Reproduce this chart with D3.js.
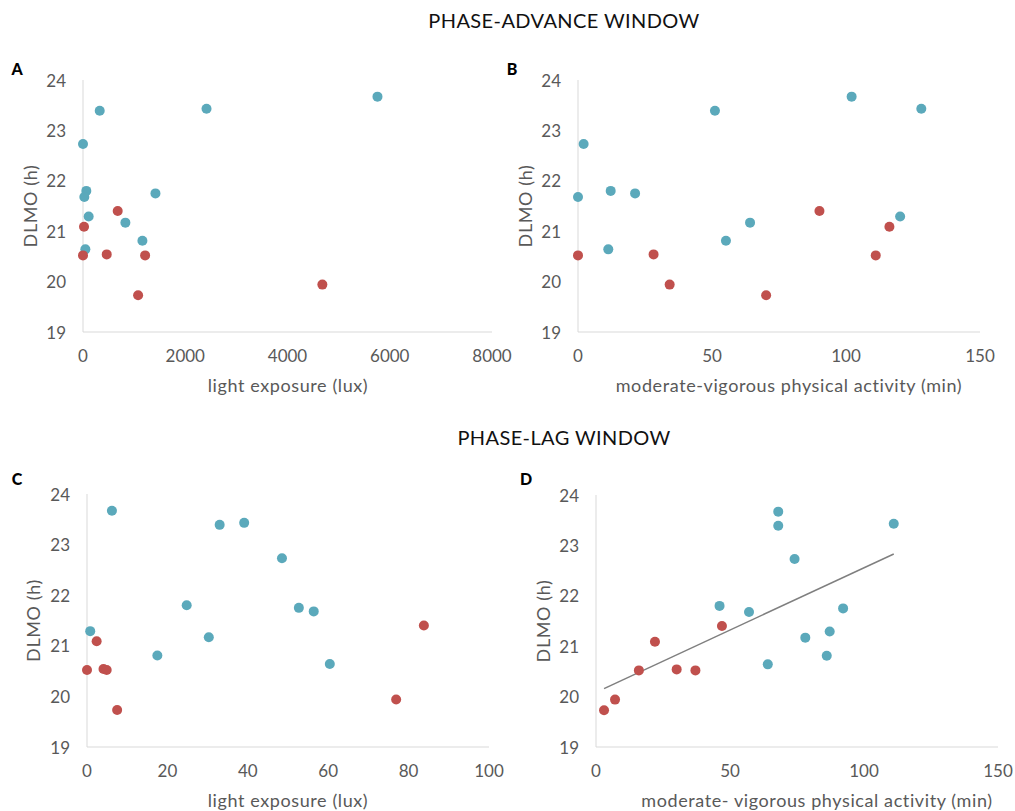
<!DOCTYPE html>
<html>
<head>
<meta charset="utf-8">
<script src="https://cdn.jsdelivr.net/npm/d3@7"></script>
<style>
  body { margin: 0; background: #fff; }
  svg text { font-family: Lato, "Noto Sans", sans-serif; }
</style>
</head>
<body>
<script>
// DLMO (h) for the 11 "blue" and 7 "red" participants (same people in every panel)
var dlmoBlue = [23.39, 23.43, 23.67, 22.73, 21.80, 21.68, 21.75, 21.29, 21.17, 20.81, 20.64];
var dlmoRed  = [21.40, 21.09, 20.52, 20.54, 20.52, 19.94, 19.73];

// A: light exposure, phase-advance window (lux)
var lightAdvBlue = [327, 2416, 5760, 0, 65, 26, 1417, 111, 829, 1162, 46];
var lightAdvRed  = [679, 20, 0, 464, 1215, 4682, 1078];
// B: MVPA, phase-advance window (min)
var mvpaAdvBlue = [51.1, 128.1, 102.1, 2.1, 12.2, 0, 21.3, 120.2, 64.2, 55.2, 11.3];
var mvpaAdvRed  = [90.1, 116.2, 0, 28.2, 111.1, 34.2, 70.2];
// C: light exposure, phase-lag window (lux)
var lightLagBlue = [33.0, 39.1, 6.2, 48.5, 24.8, 56.4, 52.7, 0.8, 30.3, 17.5, 60.4];
var lightLagRed  = [83.8, 2.4, 0, 4.1, 4.9, 76.9, 7.5];
// D: MVPA, phase-lag window (min)
var mvpaLagBlue = [68.0, 111.1, 68.0, 74.1, 46.1, 57.1, 92.2, 87.2, 78.1, 86.1, 64.1];
var mvpaLagRed  = [47.0, 22.0, 37.1, 30.1, 16.0, 7.1, 3.0];

var yTicks = [19, 20, 21, 22, 23, 24];
var lightAdvTicks = [0, 2000, 4000, 6000, 8000];
var mvpaTicks = [0, 50, 100, 150];
var lightLagTicks = [0, 20, 40, 60, 80, 100];

var blue = "#5ba9bb";
var red = "#c0504d";
var grey = "#595959";

var svg = d3.select("body").append("svg")
  .attr("width", 1015)
  .attr("height", 811);

// section titles
svg.append("text").attr("x", 564).attr("y", 20).attr("text-anchor", "middle")
  .attr("dominant-baseline", "central").attr("font-size", 20).attr("letter-spacing", 0.4)
  .attr("fill", "#111").text("PHASE-ADVANCE WINDOW");
svg.append("text").attr("x", 564).attr("y", 437).attr("text-anchor", "middle")
  .attr("dominant-baseline", "central").attr("font-size", 20).attr("letter-spacing", 0.4)
  .attr("fill", "#111").text("PHASE-LAG WINDOW");

var panels = [
  { letter: "A", lx: 17, ly: 68, left: 83, right: 492, top: 80, bottom: 332, xMax: 8000, ticks: lightAdvTicks,
    blue: lightAdvBlue, red: lightAdvRed, xTitle: "light exposure (lux)", titleX: 288, ylabX: 30 },
  { letter: "B", lx: 512, ly: 68, left: 578, right: 980, top: 80, bottom: 332, xMax: 150, ticks: mvpaTicks,
    blue: mvpaAdvBlue, red: mvpaAdvRed, xTitle: "moderate-vigorous physical activity (min)", titleX: 789, ylabX: 525 },
  { letter: "C", lx: 17, ly: 478, left: 87, right: 489, top: 494, bottom: 747, xMax: 100, ticks: lightLagTicks,
    blue: lightLagBlue, red: lightLagRed, xTitle: "light exposure (lux)", titleX: 288, ylabX: 33 },
  { letter: "D", lx: 526, ly: 478, left: 596, right: 998, top: 495, bottom: 747, xMax: 150, ticks: mvpaTicks,
    blue: mvpaLagBlue, red: mvpaLagRed, xTitle: "moderate- vigorous physical activity (min)", titleX: 817, ylabX: 543,
    trend: true }
];

panels.forEach(function(p) {
  var x = d3.scaleLinear().domain([0, p.xMax]).range([p.left, p.right]);
  var y = d3.scaleLinear().domain([19, 24]).range([p.bottom, p.top]);
  var g = svg.append("g");

  // axis lines
  g.append("line").attr("x1", p.left).attr("x2", p.left).attr("y1", p.top).attr("y2", p.bottom)
    .attr("stroke", "#d9d9d9").attr("stroke-width", 1);
  g.append("line").attr("x1", p.left).attr("x2", p.right).attr("y1", p.bottom).attr("y2", p.bottom)
    .attr("stroke", "#d9d9d9").attr("stroke-width", 1);

  // tick labels
  g.selectAll(".yt").data(yTicks).enter().append("text")
    .attr("x", p.left - 17).attr("y", function(d) { return y(d); })
    .attr("text-anchor", "end").attr("dominant-baseline", "central")
    .attr("font-size", 17).attr("fill", grey)
    .text(function(d) { return d; });
  g.selectAll(".xt").data(p.ticks).enter().append("text")
    .attr("x", function(d) { return x(d); }).attr("y", p.bottom + 23)
    .attr("text-anchor", "middle").attr("dominant-baseline", "central")
    .attr("font-size", 17).attr("fill", grey)
    .text(function(d) { return d; });

  // axis titles
  g.append("text").attr("x", p.titleX).attr("y", p.bottom + 53)
    .attr("text-anchor", "middle").attr("dominant-baseline", "central")
    .attr("font-size", 18).attr("letter-spacing", 0.6).attr("fill", grey).text(p.xTitle);
  var cy = (p.top + p.bottom) / 2;
  g.append("text").attr("transform", "translate(" + p.ylabX + "," + cy + ") rotate(-90)")
    .attr("text-anchor", "middle").attr("dominant-baseline", "central")
    .attr("font-size", 18).attr("letter-spacing", 0.6).attr("fill", grey).text("DLMO (h)");

  // panel letter
  g.append("text").attr("x", p.lx).attr("y", p.ly).attr("text-anchor", "middle")
    .attr("dominant-baseline", "central").attr("font-size", 16).attr("font-weight", "900")
    .attr("fill", "#000").text(p.letter);

  // regression line over all participants
  if (p.trend) {
    var xs = p.blue.concat(p.red);
    var ys = dlmoBlue.concat(dlmoRed);
    var mx = d3.mean(xs), my = d3.mean(ys);
    var sxy = d3.sum(xs, function(v, i) { return (v - mx) * (ys[i] - my); });
    var sxx = d3.sum(xs, function(v) { return (v - mx) * (v - mx); });
    var slope = sxy / sxx, icpt = my - slope * mx;
    var ext = d3.extent(xs);
    g.append("line")
      .attr("x1", x(ext[0])).attr("y1", y(icpt + slope * ext[0]))
      .attr("x2", x(ext[1])).attr("y2", y(icpt + slope * ext[1]))
      .attr("stroke", "#7f7f7f").attr("stroke-width", 1.5);
  }

  // points
  g.selectAll(".b").data(p.blue).enter().append("circle")
    .attr("cx", function(d) { return x(d); })
    .attr("cy", function(d, i) { return y(dlmoBlue[i]); })
    .attr("r", 5).attr("fill", blue);
  g.selectAll(".r").data(p.red).enter().append("circle")
    .attr("cx", function(d) { return x(d); })
    .attr("cy", function(d, i) { return y(dlmoRed[i]); })
    .attr("r", 5).attr("fill", red);
});
</script>
</body>
</html>
